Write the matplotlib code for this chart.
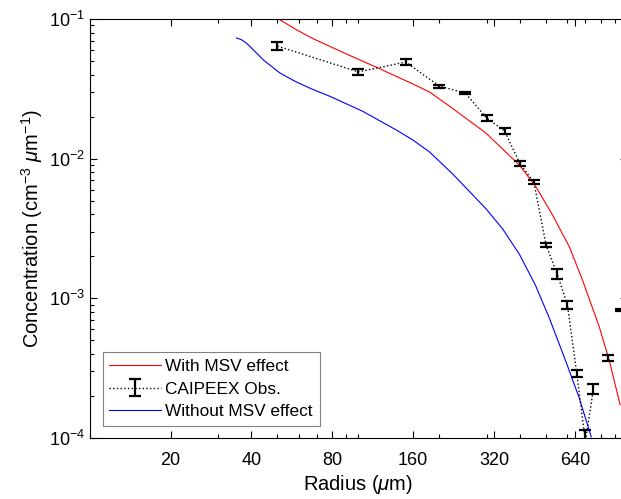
import numpy as np
import matplotlib
matplotlib.use("Agg")
import matplotlib.pyplot as plt
from matplotlib.ticker import FixedLocator, FixedFormatter, LogLocator, NullFormatter

plt.rcParams['font.family'] = ['Liberation Sans', 'DejaVu Sans']
plt.rcParams['mathtext.fontset'] = 'custom'
plt.rcParams['mathtext.rm'] = 'Liberation Sans'
plt.rcParams['mathtext.it'] = 'Liberation Sans:italic'

# model curve with MSV effect (radius um, concentration)
r_msv = [51.0, 58.8, 67.8, 78.2, 90.2, 104, 120, 138, 159.5, 184, 224.5, 299, 397,
         458, 528, 610, 683, 788, 858, 943]
c_msv = [0.0988, 0.0838, 0.0723, 0.0638, 0.0562, 0.0498, 0.0441, 0.0389, 0.0343,
         0.0300, 0.02287, 0.0152, 0.00902, 0.0063, 0.00395, 0.00234,
         0.00135, 6.27e-4, 3.62e-4, 1.73e-4]

# model curve without MSV effect
r_nomsv = [35.2, 36.7, 38.3, 40.6, 44.2, 51.0, 58.8, 67.8, 78.2, 104, 138, 159.5, 184,
           224.5, 299, 344.5, 397, 455.7, 513.6, 593, 664, 736]
c_nomsv = [0.0731, 0.0711, 0.0673, 0.0603, 0.0511, 0.0411, 0.0354, 0.03127, 0.0280,
           0.0218, 0.0161, 0.01361, 0.01117, 0.00777, 0.004365, 0.003139, 0.002078,
           0.001247, 7.24e-4, 3.505e-4, 1.936e-4, 1.019e-4]

# CAIPEEX observations
r_obs = [50, 100, 150, 200, 250, 300, 350, 400, 450, 500, 550, 600, 650, 700, 750, 800, 850, 900, 950]
c_obs = [0.064, 0.0418, 0.0492, 0.0331, 0.0295, 0.0196, 0.0158, 0.00917, 0.0068, 0.0024,
         0.00149, 8.97e-4, 2.91e-4, 9.5e-5, 2.24e-4, np.nan, 3.76e-4, np.nan, 8.26e-4]
e_obs = [0.0044, 0.0021, 0.0021, 0.0008, 0.0005, 0.0011, 0.00066, 0.00038, 0.00026, 0.00008,
         0.00012, 6.5e-5, 1.8e-5, 2e-5, 1.8e-5, np.nan, 1.8e-5, np.nan, 1.4e-5]

xticks = [20, 40, 80, 160, 320, 640]

fig = plt.figure(figsize=(6.21, 4.99), dpi=100)
ax = fig.add_axes([89.7 / 621, 61 / 499, (627 - 89.7) / 621, 419 / 499])

h1, = ax.plot(r_msv, c_msv, color='#ff0000', lw=0.8)
h2 = ax.errorbar(r_obs, c_obs, yerr=e_obs, color='k', ls=':', lw=1.0, ecolor='k',
                 elinewidth=1.6, capsize=4.2, capthick=1.6)
h3, = ax.plot(r_nomsv, c_nomsv, color='#0000ff', lw=0.8)

ax.set_xscale('log')
ax.set_yscale('log')
ax.set_xlim(10, 1000)
ax.set_ylim(1e-4, 1e-1)

ax.xaxis.set_major_locator(FixedLocator(xticks))
ax.xaxis.set_major_formatter(FixedFormatter([str(t) for t in xticks]))
ax.xaxis.set_minor_locator(LogLocator(base=10, subs=np.arange(1, 10), numticks=20))
ax.xaxis.set_minor_formatter(NullFormatter())
ax.yaxis.set_minor_locator(LogLocator(base=10, subs=np.arange(2, 10), numticks=20))
ax.yaxis.set_minor_formatter(NullFormatter())

ax.tick_params(which='both', direction='in', top=True, right=True, labelsize=13,
               width=0.8, colors='k')
ax.tick_params(which='major', length=5)
ax.tick_params(which='minor', length=3)
ax.tick_params(axis='x', pad=10)
for s in ax.spines.values():
    s.set_linewidth(0.8)

ax.set_xlabel(r'Radius ($\mu$m)', fontsize=14.5, labelpad=3)
ax.set_ylabel(r'Concentration (cm$^{-3}$ $\mu$m$^{-1}$)', fontsize=14.5, labelpad=3)

leg = ax.legend([h1, h2, h3], ['With MSV effect', 'CAIPEEX Obs.', 'Without MSV effect'],
                loc='lower left', bbox_to_anchor=(0.024, 0.028), fontsize=12.4,
                fancybox=False, edgecolor='#808080', framealpha=1, borderpad=0.4,
                handlelength=3.0, handletextpad=0.25, labelspacing=0.45, borderaxespad=0)
leg.get_frame().set_linewidth(0.8)

fig.savefig('out.png', dpi=100)
